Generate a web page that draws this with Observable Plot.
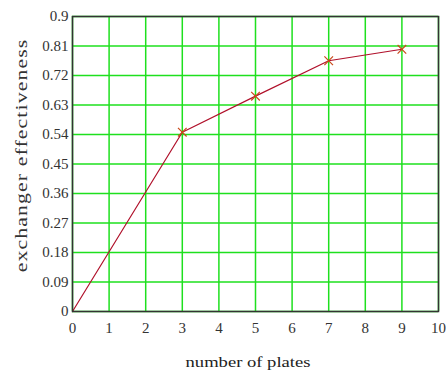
<!DOCTYPE html>
<html>
<head>
<meta charset="utf-8">
<script src="https://cdn.jsdelivr.net/npm/d3@7"></script>
<script src="https://cdn.jsdelivr.net/npm/@observablehq/plot@0.6"></script>
<style>
  html, body { margin: 0; padding: 0; background: #fff; }
  #chart svg, #chart svg text { font-family: "Liberation Serif", "Times New Roman", Tinos, "DejaVu Serif", serif !important; }
</style>
</head>
<body>
<div id="chart"></div>
<script>
const plates = [0, 3, 5, 7, 9];
const effectiveness = [0, 0.547, 0.657, 0.765, 0.80];
const markerPlates = [3, 5, 7, 9];
const markerEffectiveness = [0.547, 0.657, 0.765, 0.80];
const xTicks = [0, 1, 2, 3, 4, 5, 6, 7, 8, 9, 10];
const yTicks = [0, 0.09, 0.18, 0.27, 0.36, 0.45, 0.54, 0.63, 0.72, 0.81, 0.9];
const xLabel = "number of plates";
const yLabel = "exchanger effectiveness";

const line = plates.map((p, i) => ({p, e: effectiveness[i]}));
const markers = markerPlates.map((p, i) => ({p, e: markerEffectiveness[i]}));

const chart = Plot.plot({
  width: 446,
  height: 372,
  marginLeft: 72,
  marginRight: 8,
  marginTop: 16,
  marginBottom: 61,
  style: {fontSize: "15px", color: "#333", background: "#fff"},
  x: {domain: [0, 10]},
  y: {domain: [0, 0.9]},
  marks: [
    Plot.gridX(xTicks, {stroke: "#1ee01e", strokeOpacity: 1, strokeWidth: 1.5}),
    Plot.gridY(yTicks, {stroke: "#1ee01e", strokeOpacity: 1, strokeWidth: 1.5}),
    Plot.axisX(xTicks, {tickSize: 0, tickPadding: 11, label: null, fill: "#333", fontSize: 15}),
    Plot.axisY(yTicks, {tickSize: 0, tickPadding: 4, tickFormat: d => String(d), label: null, fill: "#333", fontSize: 15}),
    Plot.text([xLabel], {frameAnchor: "bottom", textAnchor: "middle", dx: -7.5, dy: 51, lineAnchor: "middle", fontSize: 15, fill: "#222", className: "xlab"}),
    Plot.text([yLabel], {frameAnchor: "left", textAnchor: "middle", rotate: -90, dx: -51, dy: -8.5, lineAnchor: "middle", fontSize: 16, fill: "#333", className: "ylab"}),
    Plot.line(line, {x: "p", y: "e", stroke: "#b0102a", strokeWidth: 1.2}),
    Plot.dot(markers, {x: "p", y: "e", symbol: "times", r: 4, stroke: "#c84a1a", strokeWidth: 1.2}),
    Plot.frame({stroke: "#333", strokeWidth: 1.5})
  ]
});
document.getElementById("chart").appendChild(chart);
d3.select(chart).selectAll(".ylab text").style("letter-spacing", "0.8px");
function stretch(sel, target) {
  d3.select(chart).selectAll(sel).each(function() {
    const len = this.getComputedTextLength();
    if (len > 0) {
      const t = this.getAttribute("transform") || "";
      this.setAttribute("transform", t + ` scale(${target / len},1)`);
    }
  });
}
stretch(".xlab text", 125);
stretch(".ylab text", 234);
</script>
</body>
</html>
